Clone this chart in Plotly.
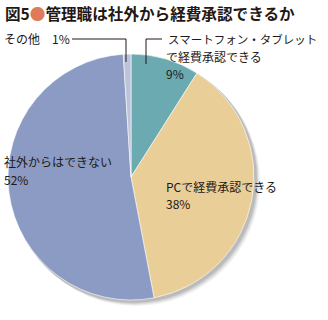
import plotly.graph_objects as go

labels = ["スマートフォン・タブレットで経費承認できる", "PCで経費承認できる", "社外からはできない", "その他"]
values = [9, 38, 52, 1]
colors = ["#6aaab0", "#e9ce98", "#8b9bc3", "#bcc4da"]

W, H = 328, 320
cx, cy, r = 131, 177, 123

def px(x):
    return x / W

def py(y):
    return 1 - y / H

fig = go.Figure()

# soft shadow
for i, (off, op) in enumerate([(5, 0.05), (4, 0.06), (3, 0.08), (2, 0.1)]):
    fig.add_shape(type="circle", xref="paper", yref="paper",
                  x0=px(cx - r + off - 1), x1=px(cx + r + off + 1),
                  y0=py(cy + r + off + 1), y1=py(cy - r + off - 1),
                  fillcolor=f"rgba(0,0,0,{op})", line_width=0, layer="below")

fig.add_trace(go.Pie(
    labels=labels, values=values, sort=False, direction="clockwise", rotation=0,
    marker=dict(colors=colors, line=dict(color="white", width=0.6)),
    textinfo="none", hoverinfo="label+percent", showlegend=False,
    domain=dict(x=[px(cx - r), px(cx + r)], y=[py(cy + r), py(cy - r)]),
))

font = "Noto Sans CJK JP"
tc = "#231815"

fig.add_annotation(xref="paper", yref="paper", x=px(3), y=py(13), xanchor="left", yanchor="middle",
                   text="<b>図5<span style='color:#e07b5a'>●</span>管理職は社外から経費承認できるか</b>",
                   showarrow=False, font=dict(family=font, size=15.6, color=tc))

def txt(x, y, s, size=12):
    fig.add_annotation(xref="paper", yref="paper", x=px(x), y=py(y), xanchor="left", yanchor="middle",
                       text=s, showarrow=False, align="left",
                       font=dict(family=font, size=size, color=tc))

txt(2, 39, "その他　1%")
txt(166, 39, "スマートフォン・タブレット", 11.5)
txt(164, 56, "で経費承認できる")
txt(164, 73, "9%")
txt(2, 161, "社外からはできない")
txt(2, 179, "52%")
txt(164, 186, "PCで経費承認できる")
txt(164, 203, "38%")

# leader lines
for (x0, y0, x1, y1) in [(72, 39, 126, 39), (126, 39, 126, 62), (146, 39, 162, 39), (146, 39, 146, 64)]:
    fig.add_shape(type="line", xref="paper", yref="paper", x0=px(x0), y0=py(y0), x1=px(x1), y1=py(y1),
                  line=dict(color="#231815", width=1))

fig.update_layout(width=W, height=H, margin=dict(l=0, r=0, t=0, b=0),
                  paper_bgcolor="white", plot_bgcolor="white")

fig.write_html("out.html")
